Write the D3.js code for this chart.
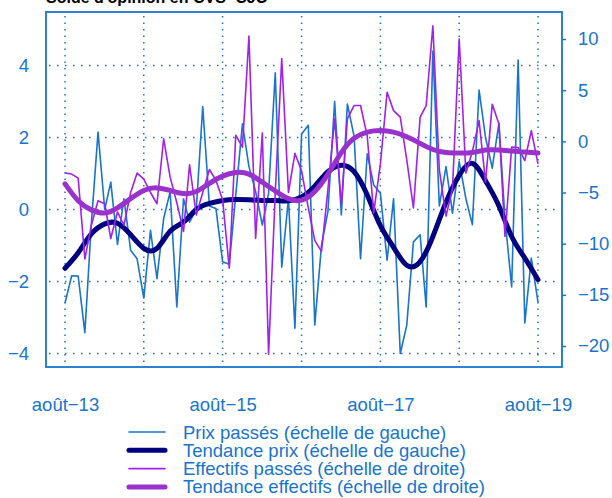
<!DOCTYPE html>
<html>
<head>
<meta charset="utf-8">
<script src="https://cdn.jsdelivr.net/npm/d3@7"></script>
<style>
  body { margin: 0; background: #fff; }
  text { font-family: 'Liberation Sans', Arial, sans-serif; }
</style>
</head>
<body>
<div id="chart"></div>
<script>
// monthly series, août 2013 -> août 2019 (73 points)
const prixPasses = [
  -2.6, -1.84, -1.85, -3.42, -0.4, 2.15, 0.0, 0.76, -0.97, 0.3,
  -1.13, -1.37, -2.46, -0.58, -1.92, -0.25, 0.49, -2.71, 0.3, -0.35,
  0.0, 2.86, 0.1, 0.03, -1.45, -1.52, 0.4, 2.38, 1.19, 0.5,
  -0.43, 0.45, 3.8, -1.6, 0.3, -3.3, 2.1, 2.34, -3.21, -1.0,
  -0.05, 3.0, -0.15, 2.93, 2.04, -1.37, 1.55, 0.68, 0.45, -1.41,
  0.3, -4.0, -3.22, -0.9, -0.7, -2.71, 4.4, 0.1, 1.19, -0.1,
  1.33, 0.3, -0.42, 3.32, 2.0, 1.15, 2.4, -0.25, -2.15, 4.15,
  -3.15, -1.35, -2.57
]
const effectifsPasses = [
  -3.1, -3.2, -3.6, -11.5, -8.2, -5.8, -6.1, -9.5, -6.9, -8.2,
  -5.0, -3.1, -3.7, -5.0, -6.1, 0.25, -3.5, -6.0, -8.8, -2.3,
  -7.2, -5.0, -2.75, -3.8, -5.7, -12.4, 0.6, -0.57, 10.3, -9.5,
  0.8, -20.8, -5.0, 8.1, -5.0, -1.17, -2.9, -6.5, -9.7, -10.75,
  -4.7, 2.2, -6.2, 2.2, 3.5, 3.5, 0.5, -7.0, -2.2, 4.8,
  3.0, 2.36, -1.8, -6.5, 2.36, 3.5, 11.3, -2.8, -7.3, -4.6,
  10.0, -3.1, -1.0, 2.03, -4.0, 3.63, 1.7, -9.3, -0.57, -0.6,
  -1.88, 1.05, -2.2
]
// trends, read every 2 months
const tendancePrix = [
  -1.63, -1.2, -0.68, -0.4, -0.38, -0.7, -1.08, -1.08, -0.6, -0.35,
  0.0, 0.17, 0.25, 0.28, 0.27, 0.25, 0.25, 0.24, 0.35, 0.65,
  1.05, 1.23, 1.05, 0.4, -0.45, -1.05, -1.55, -1.45, -0.75, 0.2,
  0.95, 1.28, 0.8, 0.1, -0.75, -1.35, -1.95
]
const tendanceEffectifs = [
  -4.15, -5.8, -6.7, -7.0, -6.5, -5.6, -4.8, -4.55, -4.8, -5.1,
  -4.9, -4.1, -3.4, -3.05, -3.2, -4.0, -4.85, -5.6, -5.75, -4.9,
  -3.2, -1.1, 0.3, 0.9, 1.05, 0.9, 0.45, -0.2, -0.8, -1.1,
  -1.15, -1.1, -0.85, -0.85, -0.95, -1.05, -1.15
]

const leftTicks = [-4, -2, 0, 2, 4]
const rightTicks = [-20, -15, -10, -5, 0, 5, 10]
const xTickLabels = ['août−13', 'août−15', 'août−17', 'août−19']
const legendLabels = [
  'Prix passés (échelle de gauche)',
  'Tendance prix (échelle de gauche)',
  'Effectifs passés (échelle de droite)',
  'Tendance effectifs (échelle de droite)'
]

const blue = '#1874CD'
const navy = '#000080'
const purple = '#A020F0'
const orchid = '#9932CC'

const width = 612
const height = 498
const box = { left: 46, right: 562, top: 12, bottom: 367 }

const svg = d3
  .select('#chart')
  .append('svg')
  .attr('width', width)
  .attr('height', height)

const start = new Date(2013, 7, 1)
const months = d3.range(prixPasses.length).map(i => d3.timeMonth.offset(start, i))
const trendMonths = d3.range(tendancePrix.length).map(i => d3.timeMonth.offset(start, 2 * i))

const x = d3.scaleTime()
  .domain([start, d3.timeMonth.offset(start, 72)])
  .range([65, 538])
const yLeft = d3.scaleLinear().domain([-4, 4]).range([353.5, 65.5])
const yRight = d3.scaleLinear().domain([-20, 10]).range([346, 39])

// title (partly cut at top)
svg.append('text')
  .attr('x', box.left)
  .attr('y', 3)
  .style('font-size', '16px')
  .style('font-weight', 'bold')
  .text("Solde d'opinion en CVS−CJO")

// dotted grid
const years = d3.range(7).map(i => d3.timeMonth.offset(start, 12 * i))
svg.append('g')
  .selectAll('line')
  .data(years)
  .enter()
  .append('line')
  .attr('x1', d => x(d))
  .attr('x2', d => x(d))
  .attr('y1', box.top + 4)
  .attr('y2', box.bottom)
  .attr('stroke', blue)
  .attr('stroke-width', 1.5)
  .attr('stroke-dasharray', '1.5,5')

svg.append('g')
  .selectAll('line')
  .data(leftTicks)
  .enter()
  .append('line')
  .attr('x1', box.left + 3)
  .attr('x2', box.right)
  .attr('y1', d => yLeft(d))
  .attr('y2', d => yLeft(d))
  .attr('stroke', blue)
  .attr('stroke-width', 1.5)
  .attr('stroke-dasharray', '1.5,6.5')

// series
const lineLeft = d3.line().x((d, i) => x(months[i])).y(d => yLeft(d))
const lineRight = d3.line().x((d, i) => x(months[i])).y(d => yRight(d))
const trendLeft = d3.line().x((d, i) => x(trendMonths[i])).y(d => yLeft(d)).curve(d3.curveNatural)
const trendRight = d3.line().x((d, i) => x(trendMonths[i])).y(d => yRight(d)).curve(d3.curveNatural)

svg.append('path')
  .attr('d', lineLeft(prixPasses))
  .attr('fill', 'none')
  .attr('stroke', blue)
  .attr('stroke-width', 1.6)
  .attr('stroke-linejoin', 'round')

svg.append('path')
  .attr('d', trendLeft(tendancePrix))
  .attr('fill', 'none')
  .attr('stroke', navy)
  .attr('stroke-width', 5)
  .attr('stroke-linecap', 'round')

svg.append('path')
  .attr('d', lineRight(effectifsPasses))
  .attr('fill', 'none')
  .attr('stroke', purple)
  .attr('stroke-width', 1.6)
  .attr('stroke-linejoin', 'round')

svg.append('path')
  .attr('d', trendRight(tendanceEffectifs))
  .attr('fill', 'none')
  .attr('stroke', orchid)
  .attr('stroke-width', 5)
  .attr('stroke-linecap', 'round')

// frame
svg.append('rect')
  .attr('x', box.left)
  .attr('y', box.top)
  .attr('width', box.right - box.left)
  .attr('height', box.bottom - box.top)
  .attr('fill', 'none')
  .attr('stroke', blue)
  .attr('stroke-width', 1.8)

// axes
const leftAxis = svg.append('g')
  .attr('transform', 'translate(' + box.left + ',0)')
  .call(d3.axisLeft(yLeft).tickValues(leftTicks).tickSize(0).tickPadding(17))
leftAxis.select('.domain').remove()

const rightAxis = svg.append('g')
  .attr('transform', 'translate(' + box.right + ',0)')
  .call(d3.axisRight(yRight).tickValues(rightTicks).tickSize(4).tickPadding(12))
rightAxis.select('.domain').remove()

const bottomAxis = svg.append('g')
  .attr('transform', 'translate(0,' + box.bottom + ')')
  .call(d3.axisBottom(x)
    .tickValues([0, 24, 48, 72].map(m => d3.timeMonth.offset(start, m)))
    .tickFormat((d, i) => xTickLabels[i])
    .tickSize(0)
    .tickPadding(31))
bottomAxis.select('.domain').remove()

svg.selectAll('.tick text')
  .attr('fill', blue)
  .style('font-size', '18.5px')
  .style('font-family', "'Liberation Sans', Arial, sans-serif")
svg.selectAll('.tick line').attr('stroke', blue).attr('stroke-width', 1.5)

// legend
const legendStyles = [
  { color: blue, w: 1.6 },
  { color: navy, w: 5 },
  { color: purple, w: 1.6 },
  { color: orchid, w: 5 }
]
const legend = svg.append('g')
  .selectAll('g')
  .data(legendLabels)
  .enter()
  .append('g')
  .attr('transform', (d, i) => 'translate(0,' + (432 + i * 18.3) + ')')

legend.append('line')
  .attr('x1', 129)
  .attr('x2', 165)
  .attr('stroke', (d, i) => legendStyles[i].color)
  .attr('stroke-width', (d, i) => legendStyles[i].w)
  .attr('stroke-linecap', 'round')

legend.append('text')
  .attr('x', 183)
  .attr('y', 6.5)
  .attr('fill', blue)
  .style('font-size', '18.5px')
  .text(d => d)
</script>
</body>
</html>
